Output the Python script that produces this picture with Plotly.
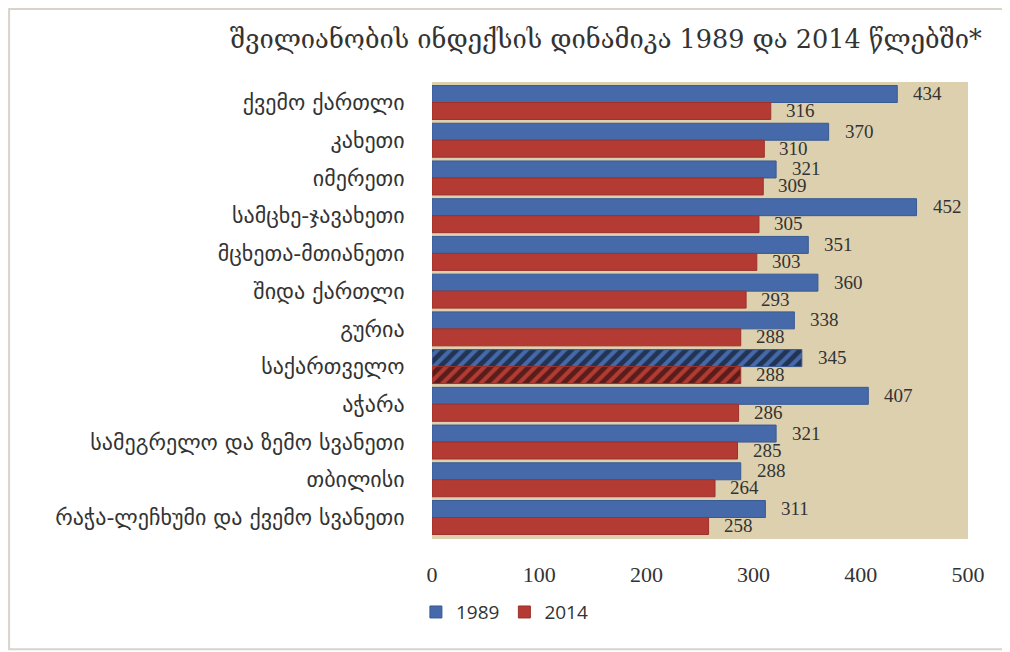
import plotly.graph_objects as go

# Data
regions = ["ქვემო ქართლი", "კახეთი", "იმერეთი", "სამცხე-ჯავახეთი",
           "მცხეთა-მთიანეთი", "შიდა ქართლი", "გურია", "საქართველო",
           "აჭარა", "სამეგრელო და ზემო სვანეთი", "თბილისი",
           "რაჭა-ლეჩხუმი და ქვემო სვანეთი"]
index_1989 = [434, 370, 321, 452, 351, 360, 338, 345, 407, 321, 288, 311]
index_2014 = [316, 310, 309, 305, 303, 293, 288, 288, 286, 285, 264, 258]
x_ticks = [0, 100, 200, 300, 400, 500]

# hatch only the country total
hatch = ["/" if r == "საქართველო" else "" for r in regions]

num_font = dict(family="Liberation Serif, DejaVu Serif", size=19, color="#333333")

fig = go.Figure()
fig.add_trace(go.Bar(y=regions, x=index_1989, orientation="h", name="1989",
                     marker=dict(color="#4569a9", line=dict(color="#3a5a93", width=1),
                                 pattern=dict(shape=hatch, fgcolor="black", size=9,
                                              solidity=0.55, fillmode="overlay"))))
fig.add_trace(go.Bar(y=regions, x=index_2014, orientation="h", name="2014",
                     marker=dict(color="#b33b34", line=dict(color="#9c312b", width=1),
                                 pattern=dict(shape=hatch, fgcolor="black", size=9,
                                              solidity=0.55, fillmode="overlay"))))

# value labels next to the bar ends (annotations so the text is not shrunk)
annotations = []
for r, v in zip(regions, index_1989):
    annotations.append(dict(x=v, y=r, text=str(v), showarrow=False, xanchor="left",
                            xshift=14, yshift=9, font=num_font))
for r, v in zip(regions, index_2014):
    annotations.append(dict(x=v, y=r, text=str(v), showarrow=False, xanchor="left",
                            xshift=13, yshift=-8, font=num_font))

fig.update_layout(
    width=1010, height=652,
    barmode="group", bargap=0.1, bargroupgap=0,
    plot_bgcolor="#ddd0ae", paper_bgcolor="white",
    margin=dict(l=424, r=50, t=74, b=121),
    title=dict(text="შვილიანობის ინდექსის დინამიკა 1989 და 2014 წლებში*",
               x=0.592, xanchor="center", y=0.952, yanchor="middle",
               font=dict(family="DejaVu Serif, Liberation Serif", size=25.5, color="#333333")),
    legend=dict(orientation="h", x=-0.03, y=-0.16, xanchor="left", yanchor="middle",
                font=dict(family="Open Sans, Liberation Sans", size=19, color="#333333"),
                itemwidth=30, traceorder="normal"),
    annotations=annotations,
    shapes=[dict(type="rect", xref="paper", yref="paper",
                 x0=-0.789, x1=1.1, y0=-0.241, y1=1.16,
                 line=dict(color="#d8d4cc", width=2), fillcolor="rgba(0,0,0,0)",
                 layer="below")],
)
fig.update_xaxes(range=[0, 500], tickvals=x_ticks, showgrid=False, zeroline=False,
                 ticks="outside", ticklen=16, tickcolor="rgba(0,0,0,0)",
                 tickfont=dict(family="Liberation Serif, DejaVu Serif", size=22, color="#333333"))
fig.update_yaxes(autorange="reversed", showgrid=False,
                 ticks="outside", ticklen=22, tickcolor="rgba(0,0,0,0)",
                 tickfont=dict(family="DejaVu Sans, Noto Sans", size=22, color="#333333"))

fig.write_html("out.html")
